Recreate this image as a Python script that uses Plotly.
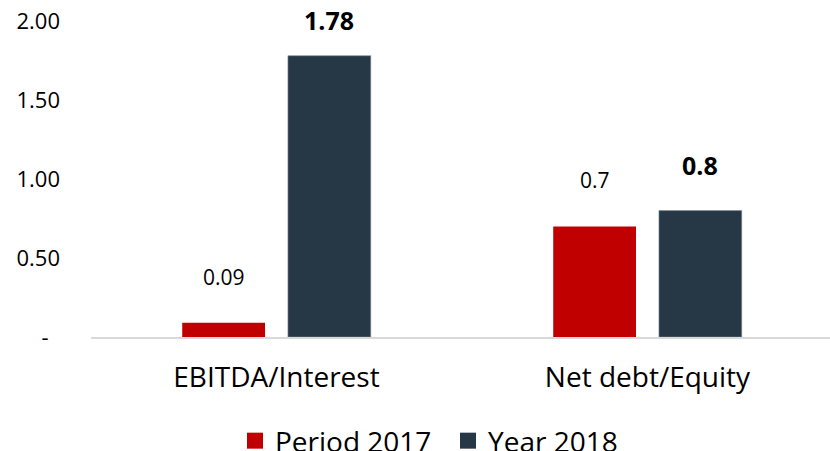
import plotly.graph_objects as go

# Coverage ratios by metric
categories = ["EBITDA/Interest", "Net debt/Equity"]
period_2017 = [0.09, 0.7]
year_2018 = [1.78, 0.8]
label_2017 = ["0.09", "0.7"]
label_2018 = ["1.78", "0.8"]

tick_vals = [0, 0.5, 1.0, 1.5, 2.0]
tick_text = ["-\u00a0\u00a0", "0.50", "1.00", "1.50", "2.00"]

RED = "#C00000"
NAVY = "#263746"
FONT = "Open Sans"

BARGAP = 0.43
GROUPGAP = 0.217

fig = go.Figure()
fig.add_trace(go.Bar(name="Period 2017", x=categories, y=period_2017, showlegend=False,
                     marker=dict(color=RED, line=dict(width=0))))
fig.add_trace(go.Bar(name="Year 2018", x=categories, y=year_2018, showlegend=False,
                     marker=dict(color=NAVY, line=dict(color="#7f8a94", width=0.6))))

# legend keys drawn as square swatches
for name, color in [("Period 2017", RED), ("Year 2018", NAVY)]:
    fig.add_trace(go.Scatter(name=name, x=[None], y=[None], mode="markers",
                             marker=dict(symbol="square", size=17, color=color)))

# value labels floated above each bar
slot = (1 - BARGAP) / 2
annotations = []
for i, cat in enumerate(categories):
    annotations.append(dict(x=i - slot / 2, y=period_2017[i], xref="x", yref="y",
                            text=label_2017[i], showarrow=False, yshift=46,
                            font=dict(family=FONT, size=21, color="#000000")))
    annotations.append(dict(x=i + slot / 2, y=year_2018[i], xref="x", yref="y",
                            text="<b>" + label_2018[i] + "</b>", showarrow=False,
                            yshift=36 if year_2018[i] > 1.5 else 46,
                            font=dict(family=FONT, size=25, color="#000000")))

fig.update_layout(
    width=830, height=451,
    margin=dict(l=91, r=0, t=21, b=114, autoexpand=False),
    paper_bgcolor="white", plot_bgcolor="white",
    barmode="group", bargap=BARGAP, bargroupgap=GROUPGAP,
    font=dict(family=FONT, color="#000000"),
    showlegend=True,
    legend=dict(orientation="h", x=(235 - 91) / 739, xanchor="left", y=-0.329,
                yanchor="middle", font=dict(family=FONT, size=28),
                entrywidth=168, entrywidthmode="pixels", itemsizing="trace",
                traceorder="normal"),
    annotations=annotations,
)
fig.update_xaxes(range=[-0.5, 1.492], showline=True, linecolor="#D9D9D9", linewidth=1.5,
                 showgrid=False, ticks="", tickfont=dict(family=FONT, size=28),
                 ticklabelstandoff=15, automargin=False)
fig.update_yaxes(range=[0, 2.0], tickvals=tick_vals, ticktext=tick_text,
                 showgrid=False, zeroline=False, showline=False, ticks="",
                 tickfont=dict(family=FONT, size=22), ticklabelstandoff=30,
                 automargin=False)

fig.write_html("out.html")
